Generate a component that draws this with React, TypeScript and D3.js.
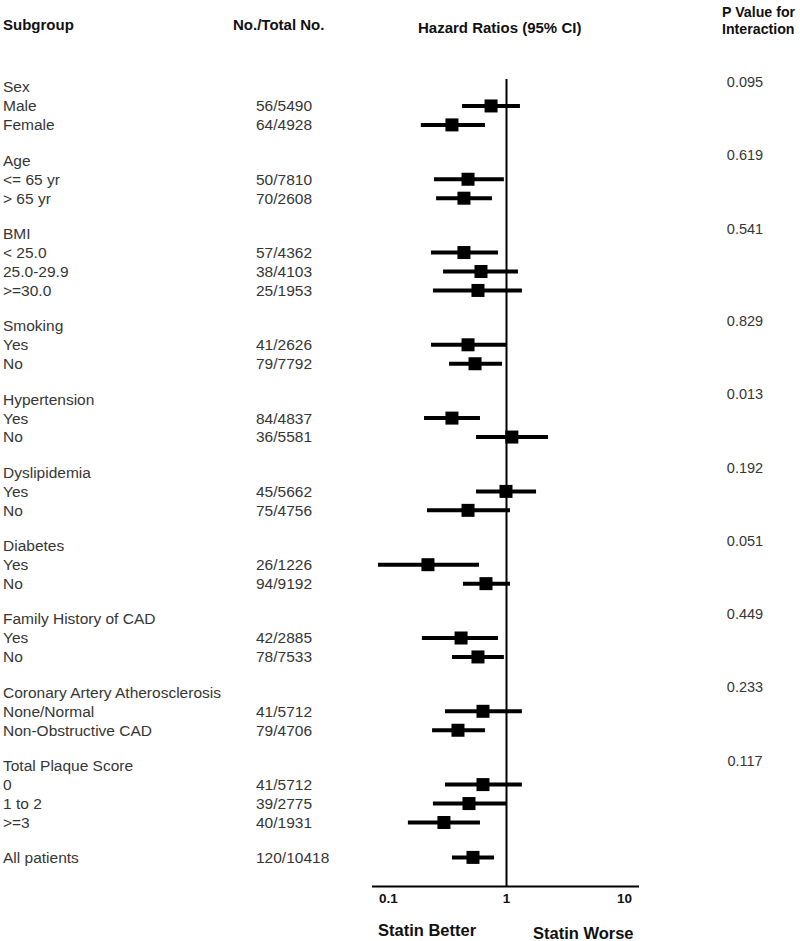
import React from "react";
import * as d3 from "d3";

// ---- Data ----
const groupNames = [
  "Sex",
  "Age",
  "BMI",
  "Smoking",
  "Hypertension",
  "Dyslipidemia",
  "Diabetes",
  "Family History of CAD",
  "Coronary Artery Atherosclerosis",
  "Total Plaque Score",
];
const groupPValues = ["0.095", "0.619", "0.541", "0.829", "0.013", "0.192", "0.051", "0.449", "0.233", "0.117"];

const itemLabels = [
  ["Male", "Female"],
  ["<= 65 yr", "> 65 yr"],
  ["< 25.0", "25.0-29.9", ">=30.0"],
  ["Yes", "No"],
  ["Yes", "No"],
  ["Yes", "No"],
  ["Yes", "No"],
  ["Yes", "No"],
  ["None/Normal", "Non-Obstructive CAD"],
  ["0", "1 to 2", ">=3"],
];
const itemCounts = [
  ["56/5490", "64/4928"],
  ["50/7810", "70/2608"],
  ["57/4362", "38/4103", "25/1953"],
  ["41/2626", "79/7792"],
  ["84/4837", "36/5581"],
  ["45/5662", "75/4756"],
  ["26/1226", "94/9192"],
  ["42/2885", "78/7533"],
  ["41/5712", "79/4706"],
  ["41/5712", "39/2775", "40/1931"],
];
const itemHR = [
  [0.74, 0.345],
  [0.472, 0.436],
  [0.436, 0.608, 0.573],
  [0.472, 0.541],
  [0.345, 1.11],
  [0.99, 0.472],
  [0.216, 0.67],
  [0.412, 0.573],
  [0.632, 0.388],
  [0.632, 0.481, 0.295],
];
const itemLow = [
  [0.42, 0.188],
  [0.243, 0.253],
  [0.229, 0.29, 0.238],
  [0.229, 0.326],
  [0.2, 0.552],
  [0.552, 0.212],
  [0.0815, 0.428],
  [0.192, 0.345],
  [0.301, 0.234],
  [0.301, 0.238, 0.146],
];
const itemHigh = [
  [1.3, 0.657],
  [0.95, 0.753],
  [0.847, 1.25, 1.35],
  [0.99, 0.916],
  [0.596, 2.25],
  [1.78, 1.07],
  [0.585, 1.07],
  [0.847, 0.95],
  [1.35, 0.657],
  [1.35, 0.99, 0.596],
];

const overallLabel = "All patients";
const overallCount = "120/10418";
const overallHR = 0.52;
const overallLow = 0.345;
const overallHigh = 0.784;

const axisTicks = [0.1, 1, 10];
const axisTickLabels = ["0.1", "1", "10"];

// ---- Layout ----
const W = 800;
const H = 941;
const FONT = "Arial, 'Liberation Sans', Helvetica, sans-serif";
const TEXT_COLOR = "#363636";

type Row = {
  kind: "header" | "item" | "overall";
  label: string;
  y: number;
  count?: string;
  hr?: number;
  lo?: number;
  hi?: number;
  p?: string;
};

function buildRows(): Row[] {
  const rows: Row[] = [];
  const step = 18.95;
  const gap = 35.4;
  let y = 87;
  groupNames.forEach((g, gi) => {
    rows.push({ kind: "header", label: g, y, p: groupPValues[gi] });
    itemLabels[gi].forEach((lab, ii) => {
      y += step;
      rows.push({
        kind: "item",
        label: lab,
        y,
        count: itemCounts[gi][ii],
        hr: itemHR[gi][ii],
        lo: itemLow[gi][ii],
        hi: itemHigh[gi][ii],
      });
    });
    y += gap;
  });
  rows.push({
    kind: "overall",
    label: overallLabel,
    y: y - 0.5,
    count: overallCount,
    hr: overallHR,
    lo: overallLow,
    hi: overallHigh,
  });
  return rows;
}

export default function App() {
  const rows = buildRows();
  const x = d3.scaleLog().domain([0.1, 10]).range([388.5, 624.5]);
  const axisY = 886.5;
  const refTop = 79;
  const box = 13;

  return (
    <svg
      width={W}
      height={H}
      viewBox={`0 0 ${W} ${H}`}
      style={{ position: "absolute", left: 0, top: 0, background: "#fff" }}
      fontFamily={FONT}
    >
      <rect x={0} y={0} width={W} height={H} fill="#fff" />
      {/* Headers */}
      <g fontWeight="bold" fontSize={15} fill="#111">
        <text x={3} y={30}>Subgroup</text>
        <text x={233} y={30}>No./Total No.</text>
        <text x={418} y={33}>Hazard Ratios (95% CI)</text>
      </g>
      <g fontWeight="bold" fontSize={14.2} fill="#111">
        <text x={722} y={17}>P Value for</text>
        <text x={722} y={34}>Interaction</text>
      </g>

      {/* Reference line at HR = 1 */}
      <line x1={x(1)} x2={x(1)} y1={refTop} y2={axisY} stroke="#000" strokeWidth={2} />

      {/* Axis */}
      <line x1={372} x2={639} y1={axisY} y2={axisY} stroke="#000" strokeWidth={2} />
      <g fontWeight="bold" fontSize={13.5} fill="#111" textAnchor="middle">
        {axisTicks.map((t, i) => (
          <text key={i} x={x(t)} y={903}>
            {axisTickLabels[i]}
          </text>
        ))}
      </g>
      <g fontWeight="bold" fontSize={16.5} fill="#111">
        <text x={378} y={936}>Statin Better</text>
        <text x={533} y={939}>Statin Worse</text>
      </g>

      {/* Rows */}
      {rows.map((r, i) => (
        <g key={i}>
          <text x={3} y={r.y} dy="0.35em" fontSize={15.5} fill={TEXT_COLOR}>
            {r.label}
          </text>
          {r.count && (
            <text x={256} y={r.y} dy="0.35em" fontSize={15.5} fill={TEXT_COLOR}>
              {r.count}
            </text>
          )}
          {r.p && (
            <text x={745} y={r.y - 5} dy="0.35em" fontSize={14.5} fill={TEXT_COLOR} textAnchor="middle">
              {r.p}
            </text>
          )}
          {r.hr !== undefined && (
            <g>
              <line x1={x(r.lo!)} x2={x(r.hi!)} y1={r.y} y2={r.y} stroke="#000" strokeWidth={4} />
              <rect x={x(r.hr) - box / 2} y={r.y - box / 2} width={box} height={box} fill="#000" />
            </g>
          )}
        </g>
      ))}
    </svg>
  );
}
